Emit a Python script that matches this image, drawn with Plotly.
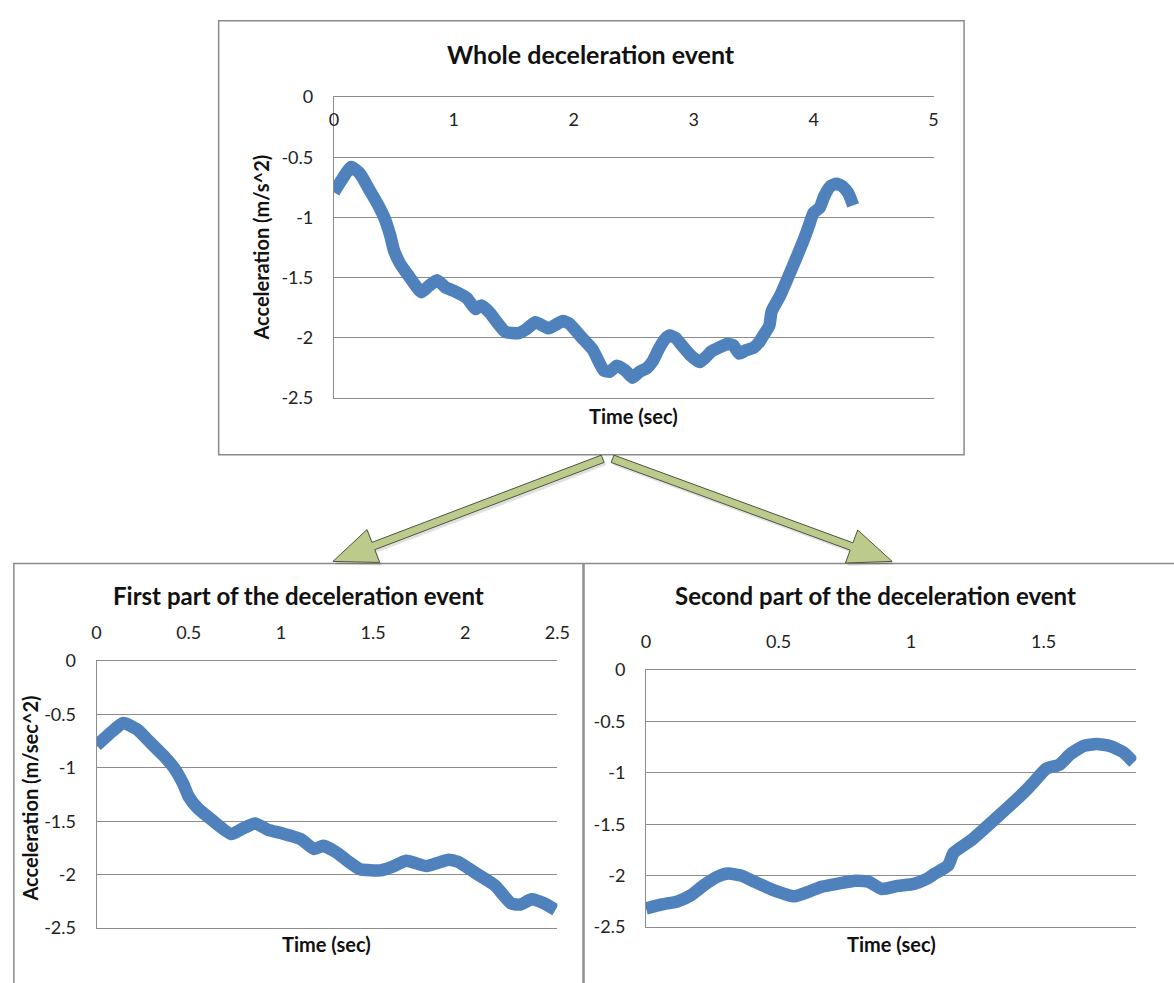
import math
import plotly.graph_objects as go

W, H = 1174, 983

# ---------------- data ----------------
# First part of the deceleration event (time in s, acceleration in m/s^2)
t_first = [0.0, 0.07, 0.145, 0.22, 0.29, 0.36, 0.42, 0.47, 0.50, 0.55, 0.62, 0.73,
           0.79, 0.86, 0.93, 1.00, 1.11, 1.18, 1.23, 1.30, 1.36, 1.43, 1.54, 1.60,
           1.68, 1.79, 1.85, 1.91, 1.96, 2.07, 2.16, 2.25, 2.30, 2.36, 2.43, 2.49]
acc_first = [-0.79, -0.68, -0.58, -0.64, -0.76, -0.88, -1.00, -1.15, -1.27, -1.38, -1.48, -1.62,
             -1.57, -1.52, -1.58, -1.61, -1.67, -1.76, -1.73, -1.79, -1.87, -1.95, -1.96, -1.93,
             -1.87, -1.92, -1.89, -1.86, -1.88, -2.00, -2.10, -2.27, -2.28, -2.23, -2.27, -2.33]

# Second part of the deceleration event
t_second = [0.0, 0.06, 0.12, 0.17, 0.22, 0.27, 0.31, 0.36, 0.41, 0.48, 0.56, 0.62,
            0.66, 0.72, 0.79, 0.84, 0.89, 0.95, 1.01, 1.06, 1.09, 1.14, 1.16, 1.23,
            1.33, 1.43, 1.47, 1.51, 1.56, 1.60, 1.65, 1.70, 1.75, 1.80, 1.84]
acc_second = [-2.32, -2.28, -2.25, -2.19, -2.09, -2.01, -1.98, -2.00, -2.06, -2.14, -2.20, -2.15,
              -2.11, -2.08, -2.05, -2.06, -2.13, -2.10, -2.08, -2.03, -1.98, -1.90, -1.78, -1.65,
              -1.42, -1.18, -1.07, -0.96, -0.92, -0.82, -0.74, -0.72, -0.74, -0.80, -0.90]

# Whole event = first part followed by second part
split_time = t_first[-1]
t_whole = t_first + [split_time + t for t in t_second[1:]]
acc_whole = acc_first + acc_second[1:]

y_tickvals = [0, -0.5, -1, -1.5, -2, -2.5]
y_ticktext = ["0", "-0.5", "-1", "-1.5", "-2", "-2.5"]
x_tickvals_whole = [0, 1, 2, 3, 4, 5]
x_ticktext_whole = ["0", "1", "2", "3", "4", "5"]
x_tickvals_first = [0, 0.5, 1, 1.5, 2, 2.5]
x_ticktext_first = ["0", "0.5", "1", "1.5", "2", "2.5"]
x_tickvals_second = [0, 0.5, 1, 1.5]
x_ticktext_second = ["0", "0.5", "1", "1.5"]

titles = ["Whole deceleration event",
          "First part of the deceleration event",
          "Second part of the deceleration event"]
x_title = "Time (sec)"
y_titles = ["Acceleration (m/s^2)", "Acceleration (m/sec^2)"]

# ---------------- styling ----------------
FONT = "Lato, Calibri, Arial, sans-serif"
BLUE = "#4F81BD"
GRID = "#8c8c8c"
TXT = "#222222"


def px(x):
    return x / W


def py(y):
    return 1 - y / H


fig = go.Figure()
line_style = dict(color=BLUE, width=12.5, shape="spline", smoothing=0.5)
fig.add_trace(go.Scatter(x=t_whole, y=acc_whole, xaxis="x", yaxis="y", mode="lines",
                         line=line_style, showlegend=False))
fig.add_trace(go.Scatter(x=t_first, y=acc_first, xaxis="x2", yaxis="y2", mode="lines",
                         line=line_style, showlegend=False))
fig.add_trace(go.Scatter(x=t_second, y=acc_second, xaxis="x3", yaxis="y3", mode="lines",
                         line=line_style, showlegend=False))

tickfont = dict(family=FONT, size=18, color=TXT)


def yax(domain, anchor):
    return dict(domain=domain, anchor=anchor, range=[-2.5, 0], tickvals=y_tickvals,
                ticktext=y_ticktext, showgrid=True, gridcolor=GRID, gridwidth=1,
                showline=True, linecolor=GRID, linewidth=1, zeroline=False, ticks="",
                tickfont=tickfont, ticklabelstandoff=16, fixedrange=True)


def xax(domain, anchor, rng, vals, text, inside=False):
    d = dict(domain=domain, anchor=anchor, range=rng, tickvals=vals, ticktext=text,
             side="top", mirror=True, showgrid=False, showline=True, linecolor=GRID,
             linewidth=1, zeroline=False, ticks="", tickfont=tickfont, fixedrange=True)
    if inside:
        d.update(ticklabelposition="inside", ticklabeloverflow="allow", ticklabelstandoff=17)
    else:
        d.update(ticklabelstandoff=14)
    return d


fig.update_layout(
    width=W, height=H, margin=dict(l=0, r=0, t=0, b=0),
    paper_bgcolor="white", plot_bgcolor="white", showlegend=False,
    xaxis=xax([px(334), px(943)], "y", [0, 5], x_tickvals_whole, x_ticktext_whole, inside=True),
    yaxis=yax([py(395), py(87)], "x"),
    xaxis2=xax([px(93), px(561)], "y2", [0, 2.5], x_tickvals_first, x_ticktext_first),
    yaxis2=yax([py(937), py(664)], "x2"),
    xaxis3=xax([px(651), px(1149)], "y3", [0, 1.85], x_tickvals_second, x_ticktext_second),
    yaxis3=yax([py(936), py(673)], "x3"),
)

# ---------------- boxes ----------------
shapes = []
for (x0, y0, x1, y1) in [(217, 9, 974, 453), (9, 564, 587, 1000), (588, 564, 1200, 1000)]:
    shapes.append(dict(type="rect", xref="paper", yref="paper", x0=px(x0), x1=px(x1),
                       y0=py(y1), y1=py(y0), line=dict(color="#8a8a8a", width=1.5),
                       fillcolor="rgba(0,0,0,0)", layer="below"))


# ---------------- arrows ----------------
def arrow_path(x0, y0, x1, y1, hw=4.0, hl=44.0, hh=18.0, dx=0.0, dy=0.0):
    L = math.hypot(x1 - x0, y1 - y0)
    ux, uy = (x1 - x0) / L, (y1 - y0) / L
    nx, ny = -uy, ux
    bx, by = x1 - ux * hl, y1 - uy * hl
    pts = [(x0 + nx * hw, y0 + ny * hw), (bx + nx * hw, by + ny * hw),
           (bx + nx * hh, by + ny * hh), (x1, y1),
           (bx - nx * hh, by - ny * hh), (bx - nx * hw, by - ny * hw),
           (x0 - nx * hw, y0 - ny * hw)]
    return "M " + " L ".join(f"{px(a + dx):.5f},{py(b + dy):.5f}" for a, b in pts) + " Z"


for (x0, y0, x1, y1) in [(607, 457, 333, 562), (617, 457, 901, 562)]:
    shapes.append(dict(type="path", xref="paper", yref="paper",
                       path=arrow_path(x0, y0, x1, y1, dx=2, dy=3),
                       fillcolor="rgba(0,0,0,0.12)", line=dict(width=0)))
    shapes.append(dict(type="path", xref="paper", yref="paper",
                       path=arrow_path(x0, y0, x1, y1),
                       fillcolor="#BCCB8C", line=dict(color="#4d5340", width=1)))

fig.update_layout(shapes=shapes)

# ---------------- titles ----------------
ann = []
axis_font = dict(family=FONT, size=20, color="#111111")
for text, (cx, cy), size in zip(titles, [(595, 43), (298, 597), (884, 597)], [25, 24, 24]):
    ann.append(dict(text=f"<b>{text}</b>", x=px(cx), y=py(cy), xref="paper", yref="paper",
                    showarrow=False, font=dict(family=FONT, size=size, color="#111111"),
                    xanchor="center", yanchor="middle"))
for (cx, cy) in [(638, 413), (327, 953), (900, 953)]:
    ann.append(dict(text=f"<b>{x_title}</b>", x=px(cx), y=py(cy), xref="paper", yref="paper",
                    showarrow=False, font=axis_font, xanchor="center", yanchor="middle"))
for text, (cx, cy) in zip(y_titles, [(260, 241), (25, 805)]):
    ann.append(dict(text=f"<b>{text}</b>", x=px(cx), y=py(cy), xref="paper", yref="paper",
                    showarrow=False, font=axis_font, textangle=-90,
                    xanchor="center", yanchor="middle"))
fig.update_layout(annotations=ann)

fig.write_html("out.html")
